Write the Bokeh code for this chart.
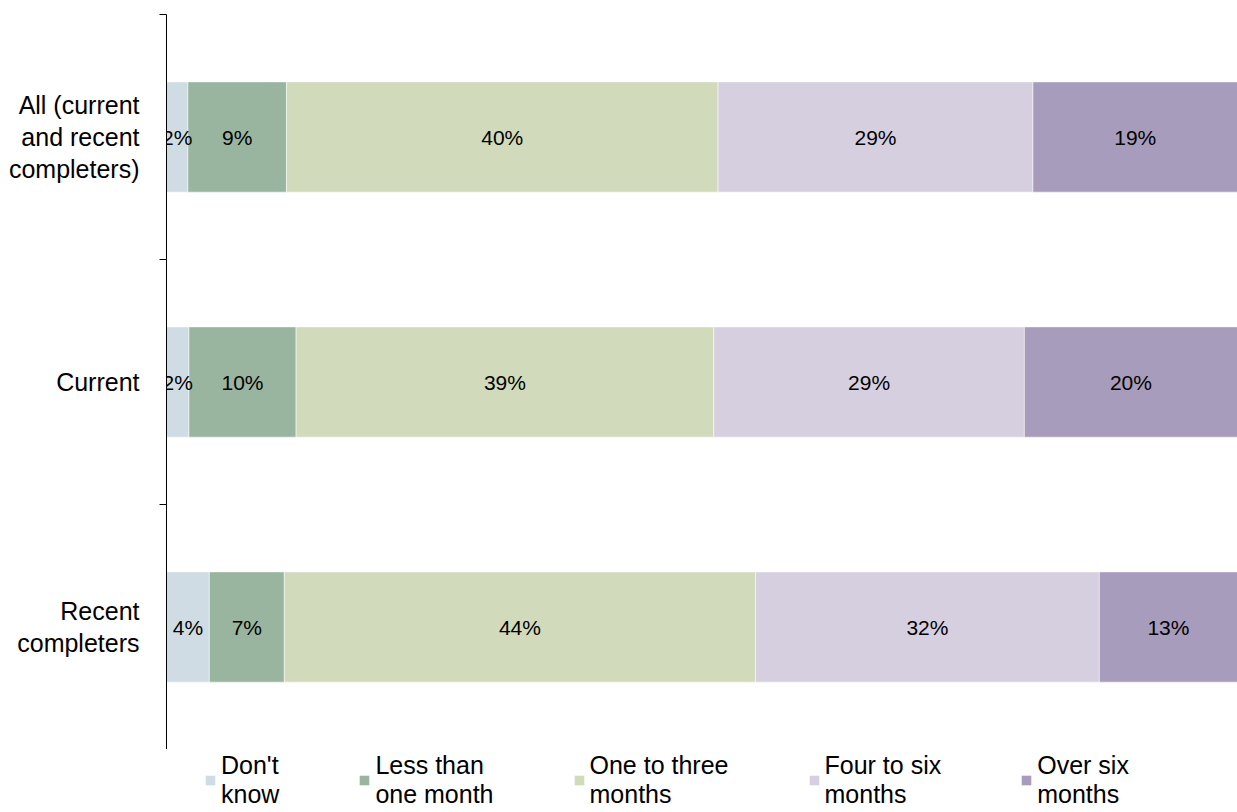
from bokeh.plotting import figure
from bokeh.models import ColumnDataSource, Range1d, FixedTicker, Legend, LegendItem, LabelSet
from bokeh.core.properties import value
from bokeh.layouts import column
from bokeh.embed import file_html
from bokeh.resources import INLINE

# ---- data ----
categories = ["Recent completers", "Current", "All (current and recent completers)"]
cat_labels = ["Recent\ncompleters", "Current", "All (current\nand recent\ncompleters)"]
series = ["Don't know", "Less than one month", "One to three months", "Four to six months", "Over six months"]
legend_labels = ["Don't\nknow", "Less than\none month", "One to three\nmonths", "Four to six\nmonths", "Over six\nmonths"]
dont_know = [4.0, 2.1, 2.0]
less_than_one = [7.0, 10.0, 9.2]
one_to_three = [44.0, 39.0, 40.3]
four_to_six = [32.1, 29.0, 29.4]
over_six = [12.9, 19.9, 19.1]
label_dont_know = ["4%", "2%", "2%"]
label_less_than_one = ["7%", "10%", "9%"]
label_one_to_three = ["44%", "39%", "40%"]
label_four_to_six = ["32%", "29%", "29%"]
label_over_six = ["13%", "20%", "19%"]
colors = ["#CFDCE4", "#99B59F", "#D1DBBC", "#D6CFE0", "#A89CBD"]

FONT = "Liberation Sans"

values = [dont_know, less_than_one, one_to_three, four_to_six, over_six]
labels = [label_dont_know, label_less_than_one, label_one_to_three, label_four_to_six, label_over_six]
ypos = [i + 0.5 for i in range(len(categories))]

p = figure(width=1237, height=749, output_backend="svg", toolbar_location=None,
           x_range=Range1d(0, 100), y_range=Range1d(0, len(categories)),
           min_border_left=166, min_border_right=0, min_border_top=14, min_border_bottom=0)
p.outline_line_color = None
p.grid.visible = False
p.xaxis.visible = False

data = {"y": ypos}
for s, v in zip(series, values):
    data[s] = v
src = ColumnDataSource(data)
renderers = p.hbar_stack(series, y="y", height=0.45, color=colors, source=src,
                         line_color="white", line_width=1, line_alpha=0.5)

# data labels (annotations, so not clipped at the frame edge)
for v_i, (vals, labs) in enumerate(zip(values, labels)):
    left = [sum(values[k][j] for k in range(v_i)) for j in range(len(categories))]
    mids = [l + v / 2 for l, v in zip(left, vals)]
    lsrc = ColumnDataSource({"x": mids, "y": ypos, "t": labs})
    p.add_layout(LabelSet(x="x", y="y", text="t", source=lsrc, text_align="center",
                          text_baseline="middle", text_font=value(FONT),
                          text_font_size=value("21px"), text_color=value("black")))

# y axis: ticks at category boundaries, labels at centers
yax = p.yaxis[0]
yax.ticker = FixedTicker(ticks=ypos, minor_ticks=list(range(len(categories) + 1)))
yax.major_label_overrides = {y: lab for y, lab in zip(ypos, cat_labels)}
yax.major_tick_line_color = None
yax.major_tick_out = 0
yax.major_tick_in = 0
yax.minor_tick_line_color = "black"
yax.minor_tick_out = 7
yax.minor_tick_in = 0
yax.axis_line_color = "black"
yax.major_label_standoff = 20
yax.major_label_text_font = FONT
yax.major_label_text_font_size = "25px"
yax.major_label_text_color = "black"
yax.major_label_text_line_height = 1.15

# legend in a strip below the chart
lg = figure(width=1237, height=63, output_backend="svg", toolbar_location=None,
            x_range=Range1d(0, 1), y_range=Range1d(0, 1),
            min_border_left=0, min_border_right=0, min_border_top=0, min_border_bottom=0)
lg.axis.visible = False
lg.grid.visible = False
lg.outline_line_color = None
items = []
for lab, c in zip(legend_labels, colors):
    # placeholder glyph outside the visible range, used only for the legend swatch
    r = lg.quad(left=[2], right=[3], top=[3], bottom=[2], fill_color=c, line_color=None)
    items.append(LegendItem(label=lab, renderers=[r]))
legend = Legend(items=items, orientation="horizontal", location=(38, 3),
                label_text_font=FONT, label_text_font_size="25px", label_text_line_height=1.0,
                label_text_color="black",
                glyph_width=12, glyph_height=12, label_standoff=5, spacing=79,
                padding=0, margin=0, border_line_color=None, background_fill_alpha=0)
lg.add_layout(legend, "center")

open("out.html", "w").write(file_html(column(p, lg, spacing=0), INLINE))
